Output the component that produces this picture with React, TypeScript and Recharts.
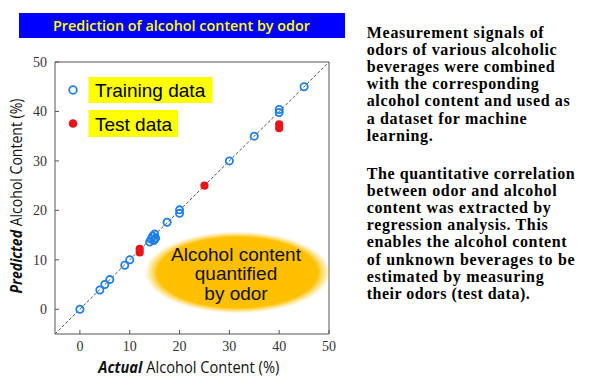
import React from "react";
import { ScatterChart, Scatter, XAxis, YAxis, ReferenceLine } from "recharts";

// ---- data ----
const trainingActual = [0, 4, 5, 6, 9, 10, 14, 14.3, 14.6, 15, 15.2, 14.8, 15, 17.5, 20, 20, 30, 35, 40, 40, 45];
const trainingPredicted = [0, 3.9, 5, 6, 8.9, 10, 13.6, 14.2, 14.8, 15.2, 14.4, 13.9, 14.1, 17.6, 20.1, 19.4, 30, 35, 40.4, 39.8, 45];
const testActual = [12, 12, 25, 40, 40];
const testPredicted = [12.2, 11.5, 25, 37.4, 36.6];
const axisTicks = [0, 10, 20, 30, 40, 50];
const axisDomain = [-5, 50];
const identityLine = [
  { x: -5, y: -5 },
  { x: 50, y: 50 },
];
const titleText = "Prediction of alcohol content by odor";
const legendLabels = ["Training data", "Test data"];
const bubbleLines = ["Alcohol content", "quantified", "by odor"];
const paragraph1 = [
  "Measurement signals of",
  "odors of various alcoholic",
  "beverages were combined",
  "with the corresponding",
  "alcohol content and used as",
  "a dataset for machine",
  "learning.",
];
const paragraph1Widths = [177, 190, 188, 172, 203, 160, 66];
const paragraph2 = [
  "The quantitative correlation",
  "between odor and alcohol",
  "content was extracted by",
  "regression analysis. This",
  "enables the alcohol content",
  "of unknown beverages to be",
  "estimated by measuring",
  "their odors (test data).",
];
const paragraph2Widths = [208, 190, 184, 181, 200, 208, 177, 163];

const trainingData = trainingActual.map((x, i) => ({ x, y: trainingPredicted[i] }));
const testData = testActual.map((x, i) => ({ x, y: testPredicted[i] }));

const BLUE = "#1f7fe3";
const RED = "#e8141c";
const AXIS = "#555";
const SERIF = "'Liberation Serif', 'Times New Roman', serif";

const OpenCircle = (props: any) => (
  <circle cx={props.cx} cy={props.cy} r={3.6} fill="none" stroke={BLUE} strokeWidth={1.8} />
);
const FilledCircle = (props: any) => (
  <circle cx={props.cx} cy={props.cy} r={4.1} fill={RED} stroke="none" />
);

const XTick = (props: any) => (
  <text
    x={props.x}
    y={props.y + 10}
    textAnchor="middle"
    fontFamily={SERIF}
    fontSize={14}
    fill="#333"
  >
    {props.payload.value}
  </text>
);
const YTick = (props: any) => (
  <text
    x={props.x}
    y={props.y + 5}
    textAnchor="end"
    fontFamily={SERIF}
    fontSize={14}
    fill="#333"
  >
    {props.payload.value}
  </text>
);

export default function App() {
  return (
    <div style={{ position: "absolute", left: 0, top: 0, width: 600, height: 392, background: "#fff", overflow: "hidden" }}>
      <div style={{ position: "absolute", left: 0, top: 0 }}>
        <ScatterChart width={340} height={392} margin={{ top: 52, right: 1, bottom: 28, left: 15 }}>
          <XAxis
            dataKey="x"
            type="number"
            domain={axisDomain}
            ticks={axisTicks}
            allowDataOverflow
            height={30}
            tickSize={-4}
            tickMargin={11}
            tick={XTick}
            axisLine={{ stroke: AXIS }}
            tickLine={{ stroke: AXIS }}
          />
          <XAxis
            xAxisId="top"
            orientation="top"
            type="number"
            domain={axisDomain}
            ticks={axisTicks}
            allowDataOverflow
            height={10}
            tickSize={-4}
            tick={false}
            axisLine={{ stroke: AXIS }}
            tickLine={{ stroke: AXIS }}
          />
          <YAxis
            dataKey="y"
            type="number"
            domain={axisDomain}
            ticks={axisTicks}
            allowDataOverflow
            width={40}
            tickSize={-4}
            tickMargin={12}
            tick={YTick}
            axisLine={{ stroke: AXIS }}
            tickLine={{ stroke: AXIS }}
          />
          <YAxis
            yAxisId="right"
            orientation="right"
            type="number"
            domain={axisDomain}
            ticks={axisTicks}
            allowDataOverflow
            width={10}
            tickSize={-4}
            tick={false}
            axisLine={{ stroke: AXIS }}
            tickLine={{ stroke: AXIS }}
          />
          <ReferenceLine
            segment={identityLine}
            stroke="#222"
            strokeWidth={0.8}
            strokeDasharray="3 2"
          />
          <Scatter data={trainingData} shape={OpenCircle} isAnimationActive={false} />
          <Scatter data={testData} shape={FilledCircle} isAnimationActive={false} />
        </ScatterChart>
      </div>
      <svg width={600} height={392} style={{ position: "absolute", left: 0, top: 0, pointerEvents: "none" }}>
        <defs>
          <radialGradient id="bubbleGrad" cx="50%" cy="50%" r="50%">
            <stop offset="0%" stopColor="#FFBE00" stopOpacity={1} />
            <stop offset="86%" stopColor="#FFC000" stopOpacity={1} />
            <stop offset="100%" stopColor="#FFCC33" stopOpacity={0} />
          </radialGradient>
        </defs>
        {/* title */}
        <rect x={19} y={13} width={326} height={25} fill="#0000FF" />
        <text
          x={181.5}
          y={31}
          textAnchor="middle"
          fontFamily="'Open Sans', 'Noto Sans', sans-serif"
          fontWeight={600}
          fontSize={15}
          fill="#FFFF00"
          textLength={257}
          lengthAdjust="spacingAndGlyphs"
        >
          {titleText}
        </text>
        {/* axis titles */}
        <text
          x={188.8}
          y={373}
          textAnchor="middle"
          fontFamily="'Open Sans', 'Noto Sans', sans-serif"
          fontSize={15.5}
          fill="#111"
          textLength={181}
          lengthAdjust="spacingAndGlyphs"
        >
          <tspan fontWeight="bold" fontStyle="italic">Actual</tspan>
          <tspan> Alcohol Content (%)</tspan>
        </text>
        <text
          x={0}
          y={0}
          transform="translate(21.5,196) rotate(-90)"
          textAnchor="middle"
          fontFamily="'Open Sans', 'Noto Sans', sans-serif"
          fontSize={15.5}
          fill="#111"
          textLength={195}
          lengthAdjust="spacingAndGlyphs"
        >
          <tspan fontWeight="bold" fontStyle="italic">Predicted</tspan>
          <tspan> Alcohol Content (%)</tspan>
        </text>
        {/* legend */}
        <circle cx={73} cy={90} r={3.8} fill="none" stroke={BLUE} strokeWidth={1.8} />
        <rect x={88.5} y={77} width={124} height={26} fill="#FFFF00" />
        <text x={95} y={97} fontFamily="'Liberation Sans', Arial, sans-serif" fontSize={19} fill="#000">
          {legendLabels[0]}
        </text>
        <circle cx={73} cy={123.5} r={4.3} fill={RED} />
        <rect x={88.5} y={110} width={89.5} height={27} fill="#FFFF00" />
        <text x={95} y={131} fontFamily="'Liberation Sans', Arial, sans-serif" fontSize={19} fill="#000">
          {legendLabels[1]}
        </text>
        {/* bubble */}
        <ellipse cx={237.5} cy={272.5} rx={93} ry={41} fill="url(#bubbleGrad)" />
        {bubbleLines.map((line, i) => (
          <text
            key={i}
            x={236}
            y={260.5 + i * 19.8}
            textAnchor="middle"
            fontFamily="'Liberation Sans', Arial, sans-serif"
            fontSize={19}
            fill="#111"
          >
            {line}
          </text>
        ))}
        {/* right-hand description */}
        {paragraph1.map((line, i) => (
          <text
            key={"p1" + i}
            x={366.7}
            y={37.5 + i * 17.2}
            fontFamily={SERIF}
            fontWeight="bold"
            fontSize={16}
            fill="#000"
            textLength={paragraph1Widths[i]}
            lengthAdjust="spacing"
          >
            {line}
          </text>
        ))}
        {paragraph2.map((line, i) => (
          <text
            key={"p2" + i}
            x={366.7}
            y={178.5 + i * 17.2}
            fontFamily={SERIF}
            fontWeight="bold"
            fontSize={16}
            fill="#000"
            textLength={paragraph2Widths[i]}
            lengthAdjust="spacing"
          >
            {line}
          </text>
        ))}
      </svg>
    </div>
  );
}
